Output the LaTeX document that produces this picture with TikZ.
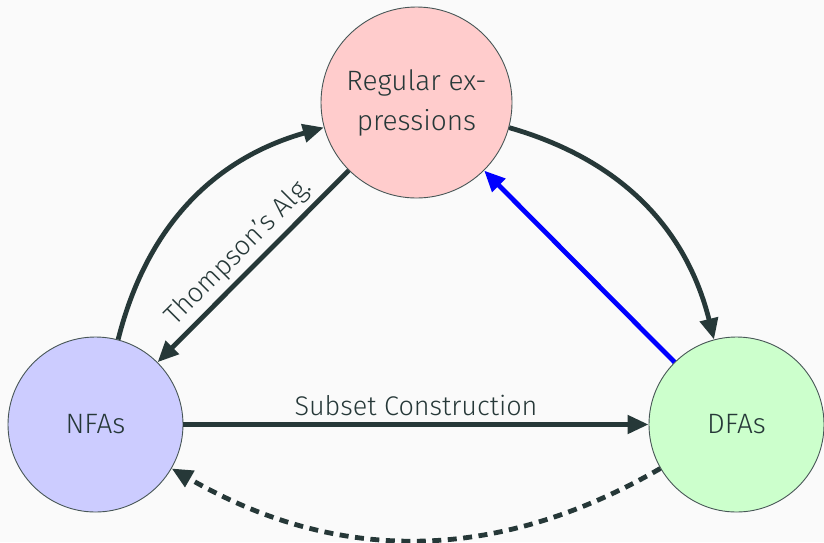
\documentclass[tikz,border=0pt]{standalone}
\usepackage{fontspec}
\setmainfont{Fira Sans}[UprightFont=* Light]
\usetikzlibrary{arrows.meta}
\definecolor{ink}{HTML}{263838}
\definecolor{bgc}{HTML}{FAFAFA}
\definecolor{refill}{HTML}{FFCCCC}
\definecolor{nfafill}{HTML}{CCCCFF}
\definecolor{dfafill}{HTML}{CCFFCC}
\tikzset{
  statenode/.style={circle, draw=ink!85, line width=0.9pt, inner sep=0pt, text=ink, align=center,
    font=\fontsize{28}{40}\selectfont},
  edge/.style={draw=ink, line width=4.8pt, -{Triangle[length=21pt,width=18pt]}},
  lbl/.style={text=ink, font=\fontsize{27}{32}\selectfont, inner sep=4pt},
  dashedge/.style={dash pattern=on 9pt off 6.5pt}
}
\begin{document}
\begin{tikzpicture}[x=1pt,y=-1pt]
\fill[bgc] (0,0) rectangle (824,542);
\useasboundingbox (0,0) rectangle (824,542);
\node[statenode, fill=refill, minimum size=191pt] (re) at (416.5,102.5) {Regular ex-\\pressions};
\node[statenode, fill=nfafill, minimum size=175pt] (nfa) at (95.5,424.5) {NFAs};
\node[statenode, fill=dfafill, minimum size=175pt] (dfa) at (736.5,424.5) {DFAs};
\draw[edge] (nfa) to[bend left=30] (re);
\draw[edge] (re) -- node[lbl, sloped, above, inner sep=5pt] {Thompson's Alg.} (nfa);
\draw[edge] (re) to[bend left=30] (dfa);
\draw[edge, draw=blue, -{Triangle[length=21pt,width=18pt,fill=blue]}] (dfa) -- (re);
\draw[edge] (nfa) -- node[lbl, above, inner sep=6pt] {Subset Construction} (dfa);
\draw[edge, dashedge] (dfa) to[bend left=30] (nfa);
\end{tikzpicture}
\end{document}
